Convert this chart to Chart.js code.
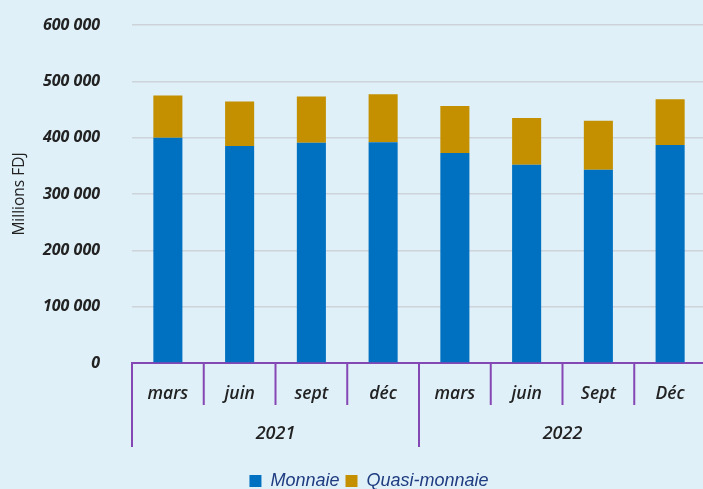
<!DOCTYPE html>
<html lang="fr">

<head>
  <meta charset="UTF-8">
  <title>Masse monétaire</title>
  <style>
    body {
      margin: 0;
      background: #dff0f8;
      overflow: hidden;
    }

    #chart-container {
      width: 706px;
      height: 489px;
    }
  </style>
</head>

<body>

  <div id="chart-container">
    <canvas id="masseChart"></canvas>
  </div>

  <script src="https://cdn.jsdelivr.net/npm/chart.js@4.4.0/dist/chart.umd.min.js"></script>
  <script>
    const months = ['mars', 'juin', 'sept', 'déc', 'mars', 'juin', 'Sept', 'Déc'];
    const years = ['2021', '2022'];
    const monthsPerYear = [4, 4];
    const monnaie = [400000, 385000, 391000, 392000, 373000, 352000, 343000, 387000];
    const quasiMonnaie = [75000, 79000, 82000, 85000, 83000, 83000, 87000, 81000];
    const yTicks = [0, 100000, 200000, 300000, 400000, 500000, 600000];

    const purple = '#8447b4';
    const fontFamily = "'Open Sans', 'Noto Sans', sans-serif";

    function fmt(v) {
      return String(v).replace(/\B(?=(\d{3})+(?!\d))/g, ' ');
    }

    // fond bleu clair
    const bgPlugin = {
      id: 'bg',
      beforeDraw(chart) {
        const ctx = chart.ctx;
        ctx.save();
        ctx.fillStyle = '#dff0f8';
        ctx.fillRect(0, 0, chart.width, chart.height);
        ctx.restore();
      }
    };

    // séparateurs mois / années + libellés des années
    const groupAxisPlugin = {
      id: 'groupAxis',
      afterLayout(chart) {
        // légende un peu décalée à droite et vers le bas comme sur l'original
        chart.legend.left += 16;
        chart.legend.right += 16;
        chart.legend.top += 11;
        chart.legend.bottom += 11;
      },
      afterDraw(chart) {
        const x = chart.scales.x;
        const ctx = chart.ctx;
        const base = chart.chartArea.bottom;
        const step = x.getPixelForValue(1) - x.getPixelForValue(0);
        const edge = i => x.getPixelForValue(i) - step / 2;

        const yearStarts = [0];
        monthsPerYear.forEach((n, i) => yearStarts.push(yearStarts[i] + n));

        ctx.save();
        ctx.strokeStyle = purple;
        ctx.lineWidth = 2;
        for (let i = 0; i <= months.length; i++) {
          const isYear = yearStarts.includes(i);
          const px = edge(i);
          ctx.beginPath();
          ctx.moveTo(px, base);
          ctx.lineTo(px, base + (isYear ? 84 : 42));
          ctx.stroke();
        }

        ctx.fillStyle = '#222';
        ctx.font = 'italic 600 18px ' + fontFamily;
        ctx.textAlign = 'center';
        ctx.textBaseline = 'middle';
        years.forEach((yr, i) => {
          const mid = (edge(yearStarts[i]) + edge(yearStarts[i + 1])) / 2;
          ctx.fillText(yr, mid, base + 71);
        });
        ctx.restore();
      }
    };

    const ctx = document.getElementById('masseChart').getContext('2d');
    new Chart(ctx, {
      type: 'bar',
      data: {
        labels: months,
        datasets: [
          {
            label: 'Monnaie',
            data: monnaie,
            backgroundColor: '#0070c0'
          },
          {
            label: 'Quasi-monnaie',
            data: quasiMonnaie,
            backgroundColor: '#c49000'
          }
        ]
      },
      options: {
        responsive: true,
        maintainAspectRatio: false,
        animation: false,
        datasets: {
          bar: {
            categoryPercentage: 1,
            barPercentage: 0.405
          }
        },
        layout: {
          padding: { top: 25, right: 0, bottom: 0, left: 0 }
        },
        plugins: {
          legend: {
            position: 'bottom',
            labels: {
              boxWidth: 12,
              boxHeight: 12,
              padding: 6,
              color: '#1f3c80',
              font: { family: "'Liberation Sans', Arial, sans-serif", size: 18, style: 'italic' }
            }
          },
          tooltip: { enabled: false }
        },
        scales: {
          x: {
            stacked: true,
            grid: { display: false },
            border: { color: purple, width: 2 },
            ticks: {
              color: '#222',
              padding: 13,
              font: { family: fontFamily, size: 17.5, style: 'italic', weight: '600' }
            },
            afterFit(scale) {
              scale.height = 92;
            }
          },
          y: {
            stacked: true,
            min: 0,
            max: 600000,
            afterBuildTicks(scale) {
              scale.ticks = yTicks.map(v => ({ value: v }));
            },
            afterFit(scale) {
              scale.width = 132;
              scale.paddingTop = 0;
              scale.paddingBottom = 0;
            },
            border: { display: false },
            grid: {
              drawTicks: false,
              lineWidth: 1.5,
              color: c => c.tick && c.tick.value === 0 ? 'rgba(0,0,0,0)' : '#cdd3d8'
            },
            ticks: {
              color: '#222',
              padding: 32,
              font: { family: fontFamily, size: 16, style: 'italic', weight: 'bold' },
              callback: v => fmt(v)
            },
            title: {
              display: true,
              text: 'Millions FDJ',
              color: '#222',
              padding: { top: 10, bottom: 0 },
              font: { family: fontFamily, size: 15.5 }
            }
          }
        }
      },
      plugins: [bgPlugin, groupAxisPlugin]
    });
  </script>
</body>

</html>
